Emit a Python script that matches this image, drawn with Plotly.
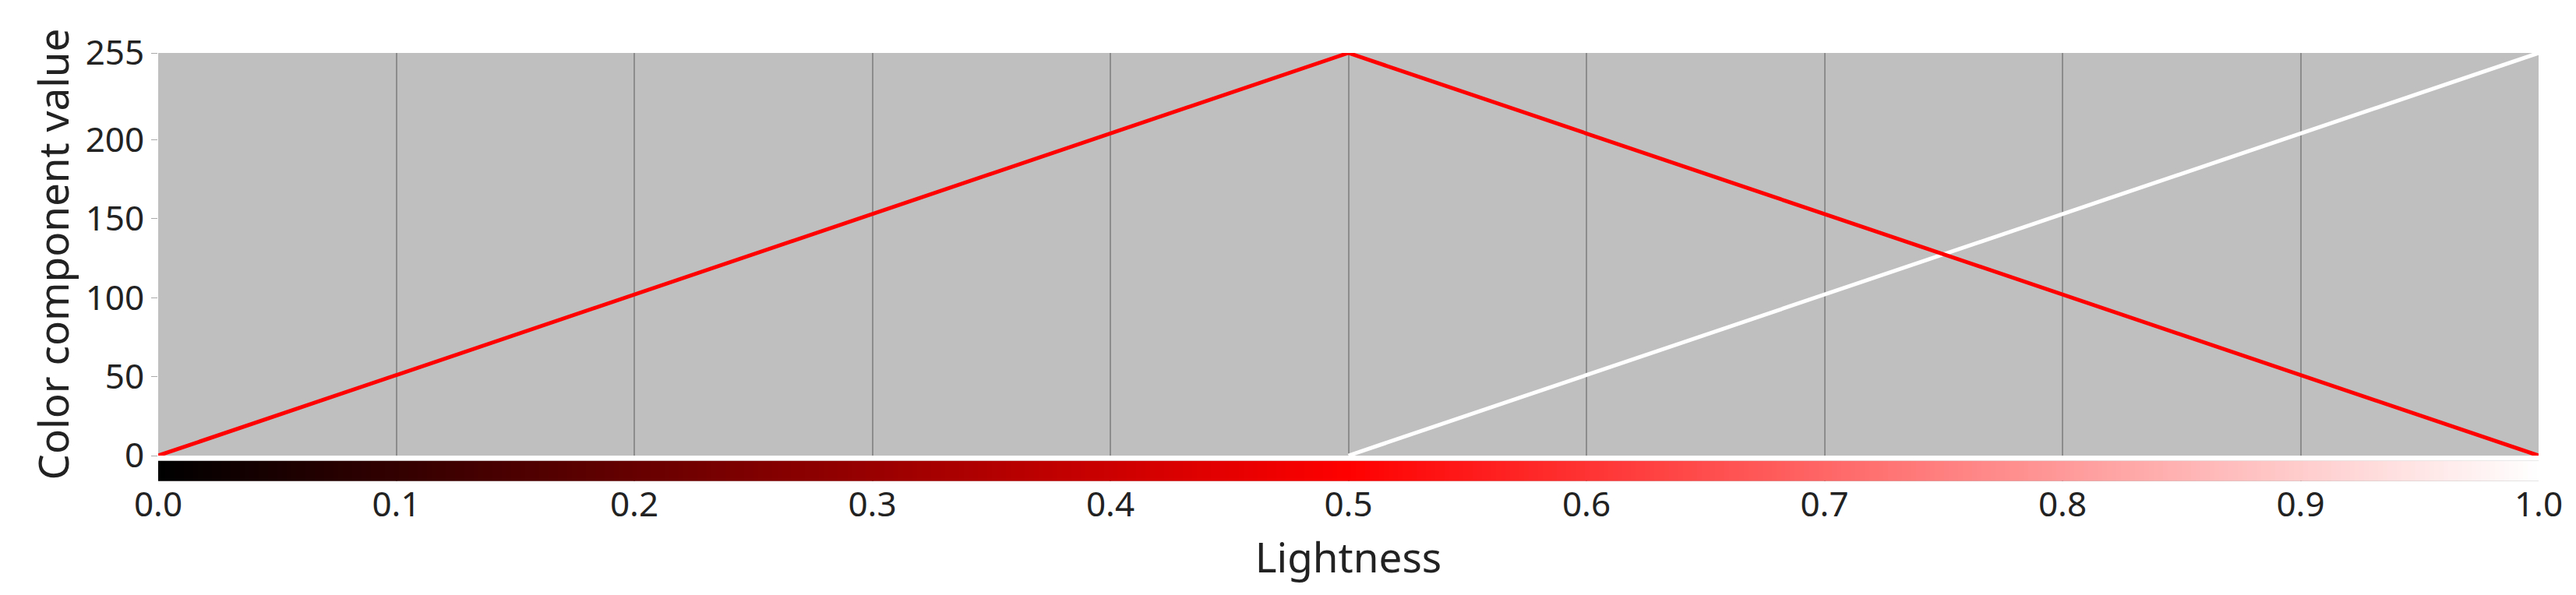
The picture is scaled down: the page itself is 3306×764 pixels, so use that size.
import plotly.graph_objects as go

lightness = [0.0, 0.5, 1.0]
red_component = [0, 255, 0]
white_x = [0.5, 1.0]
white_component = [0, 255]
gradient_x = [0.0, 0.1, 0.2, 0.3, 0.4, 0.5, 0.6, 0.7, 0.8, 0.9, 1.0]
x_ticks = [0.0, 0.1, 0.2, 0.3, 0.4, 0.5, 0.6, 0.7, 0.8, 0.9, 1.0]
y_ticks = [0, 50, 100, 150, 200, 255]

font = "Noto Sans"
fig = go.Figure()
fig.add_trace(go.Scatter(x=white_x, y=white_component, mode="lines",
                         line=dict(color="white", width=5), showlegend=False))
fig.add_trace(go.Scatter(x=lightness, y=red_component, mode="lines",
                         line=dict(color="#ff0000", width=5), showlegend=False))
fig.add_trace(go.Heatmap(x=gradient_x, y=[0, 1], z=[gradient_x, gradient_x],
                         xaxis="x", yaxis="y2", zsmooth="best", showscale=False,
                         colorscale=[[0, "#000000"], [0.5, "#ff0000"], [1, "#ffffff"]],
                         zmin=0, zmax=1, hoverinfo="skip"))

fig.update_layout(
    width=3306, height=764,
    margin=dict(l=195, r=56, t=60, b=154),
    paper_bgcolor="white", plot_bgcolor="#bfbfbf",
    font=dict(family=font, size=44, color="#222222"),
    xaxis=dict(range=[0, 1], tickvals=x_ticks, ticktext=[f"{v:.1f}" for v in x_ticks],
               showgrid=True, gridcolor="#8c8c8c", gridwidth=2, zeroline=False,
               anchor="y2", ticks="", title=dict(text="Lightness", standoff=22),
               showline=False),
    yaxis=dict(domain=[0.06, 1], range=[0, 255], tickvals=y_ticks, showgrid=False,
               zeroline=False, ticks="outside", ticklen=8, tickcolor="#aaaaaa",
               title=dict(text="Color component value", standoff=4)),
    yaxis2=dict(domain=[0, 0.048], range=[0, 1], showticklabels=False, showgrid=False,
                zeroline=False),
)
fig.write_html("out.html")
